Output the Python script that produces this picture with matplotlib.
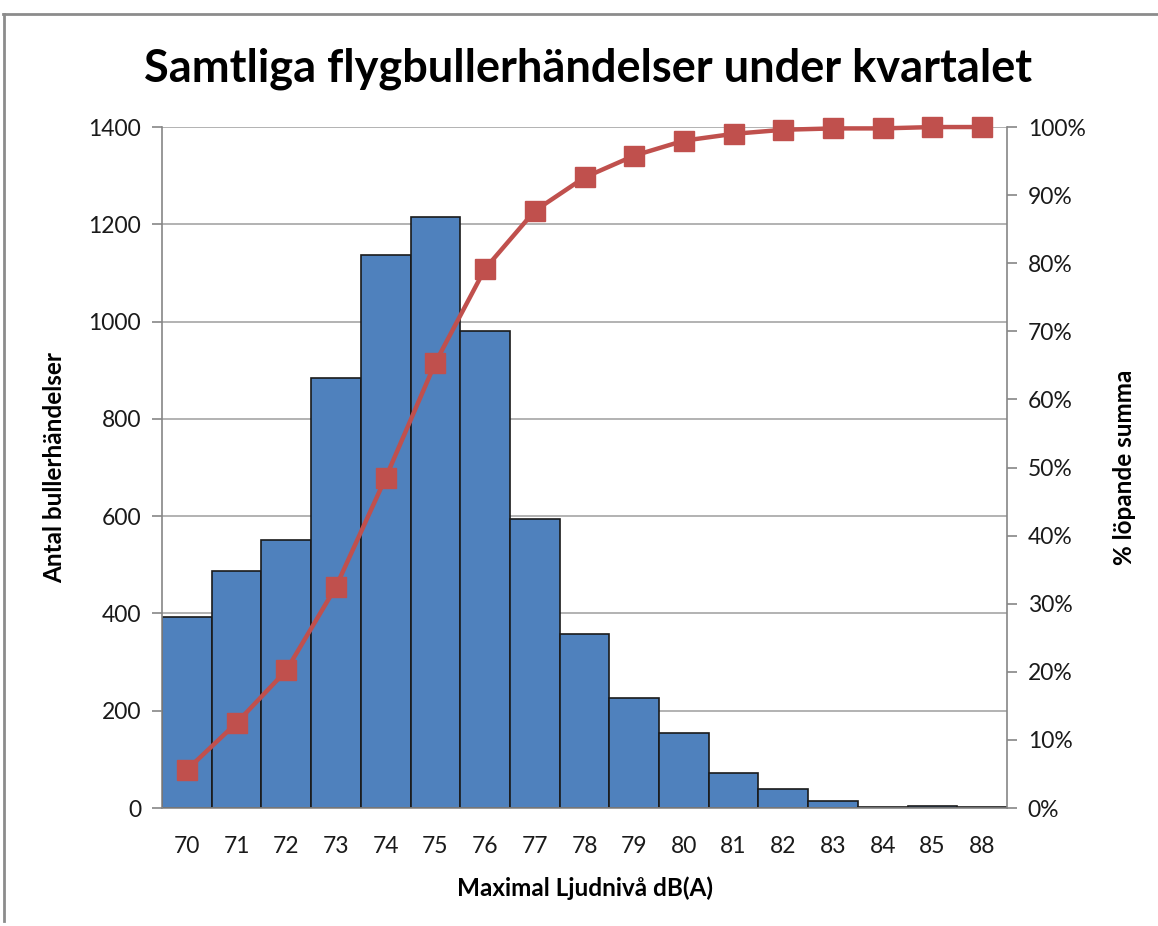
import numpy as np
import matplotlib.pyplot as plt
from matplotlib.lines import Line2D
from matplotlib.ticker import FuncFormatter

plt.rcParams['font.family'] = ['Lato', 'DejaVu Sans']

# data
levels = ['70', '71', '72', '73', '74', '75', '76', '77', '78',
          '79', '80', '81', '82', '83', '84', '85', '88']
counts = [393, 487, 550, 885, 1136, 1215, 981, 594, 357,
          226, 155, 73, 39, 15, 3, 5, 3]
cum_pct = [5.6, 12.5, 20.2, 32.5, 48.5, 65.4, 79.2, 87.7, 92.6,
           95.8, 98.0, 99.0, 99.6, 99.8, 99.8, 100.0, 100.0]

bar_color = '#4F81BD'
line_color = '#C0504D'
axis_gray = '#868686'

fig = plt.figure(figsize=(11.58, 9.26), dpi=100)
ax = fig.add_axes([0.1399, 0.1274, 0.7297, 0.7354])

x = np.arange(len(levels))
ax.bar(x, counts, width=1.0, color=bar_color, edgecolor='#1a1a1a',
       linewidth=1.2, zorder=2)
ax.set_xlim(-0.5, len(levels) - 0.5)
ax.set_ylim(0, 1400)
ax.set_yticks(np.arange(0, 1401, 200))
ax.yaxis.grid(True, color='#A6A6A6', linewidth=1.2, zorder=0)
ax.set_axisbelow(True)
ax.set_xticks(x)
ax.set_xticklabels(levels)
ax.tick_params(axis='x', length=0, pad=20, labelsize=16.5, colors='#1a1a1a')
ax.tick_params(axis='y', length=7, width=1.2, color=axis_gray,
               labelsize=16.5, labelcolor='#1a1a1a', pad=8)
for side in ['top', 'right']:
    ax.spines[side].set_visible(False)
ax.spines['left'].set_color(axis_gray)
ax.spines['bottom'].set_color(axis_gray)
ax.spines['left'].set_linewidth(1.2)
ax.spines['bottom'].set_linewidth(1.2)

ax.set_xlabel('Maximal Ljudnivå dB(A)', fontsize=17.5, fontweight='bold',
              labelpad=14)
ax.set_ylabel('Antal bullerhändelser', fontsize=17.5, fontweight='bold',
              labelpad=16)

ax2 = ax.twinx()
ax2.plot(x, cum_pct, color=line_color, linewidth=3.2, marker='s',
         markersize=15, zorder=3, clip_on=False)
ax2.set_ylim(0, 100)
ax2.set_yticks(np.arange(0, 101, 10))
ax2.yaxis.set_major_formatter(FuncFormatter(lambda v, p: f'{int(v)}%'))
ax2.tick_params(axis='y', length=7, width=1.2, color=axis_gray,
                labelsize=16.5, labelcolor='#1a1a1a', pad=8)
for side in ['top', 'left', 'bottom']:
    ax2.spines[side].set_visible(False)
ax2.spines['right'].set_color(axis_gray)
ax2.spines['right'].set_linewidth(1.2)
ax2.set_ylabel('% löpande summa', fontsize=17.5, fontweight='bold',
               rotation=90, labelpad=20)

fig.text(0.508, 0.926, 'Samtliga flygbullerhändelser under kvartalet',
         ha='center', va='center', fontsize=32.5, fontweight='bold')

# chart frame (partly cropped in the original)
fig.add_artist(Line2D([0.003, 1.0], [0.985, 0.985], color='#8c8c8c',
                      linewidth=2, transform=fig.transFigure))
fig.add_artist(Line2D([0.0035, 0.0035], [0.985, 0.005], color='#8c8c8c',
                      linewidth=2, transform=fig.transFigure))

fig.savefig('out.png', dpi=100)
